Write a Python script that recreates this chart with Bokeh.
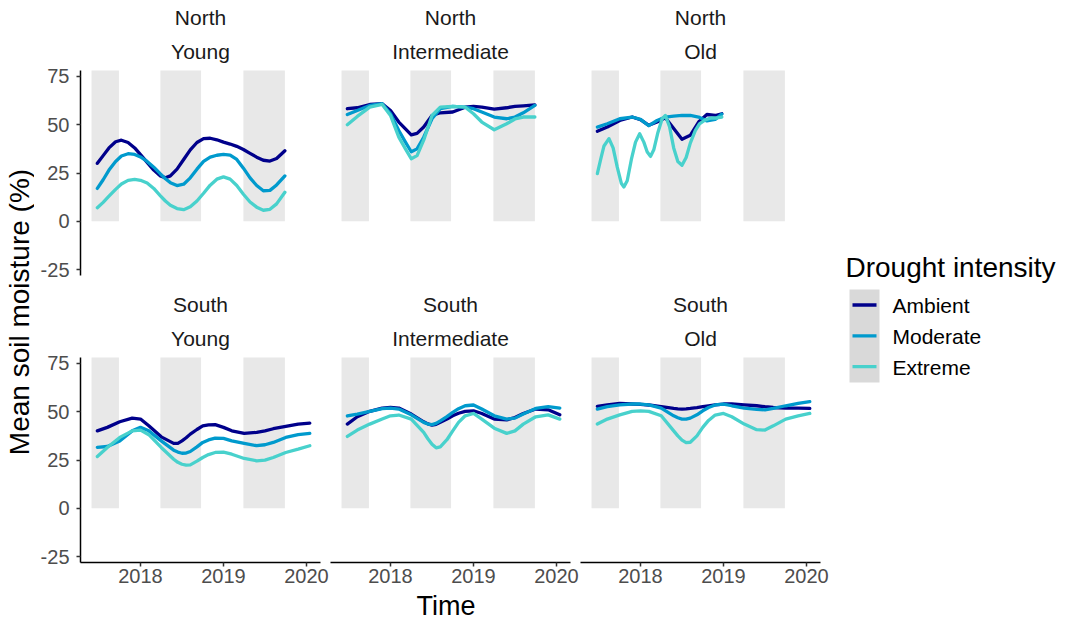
import numpy as np
from bokeh.plotting import figure
from bokeh.models import Range1d, FixedTicker, LinearAxis
from bokeh.layouts import row, column
from bokeh.embed import file_html
from bokeh.resources import INLINE
from bokeh.core.properties import value

# ---------------- data ----------------
SERIES = ["Ambient", "Moderate", "Extreme"]
COLORS = ["#00008B", "#009ACD", "#48D1CC"]
REGIONS = ["North", "South"]
AGES = ["Young", "Intermediate", "Old"]
DROUGHT_START = [2017.41, 2018.24, 2019.24]
DROUGHT_END = [2017.74, 2018.73, 2019.74]
Y_TICKS = [-25, 0, 25, 50, 75]
Y_TICK_LABELS = ["-25", "0", "25", "50", "75"]
X_TICKS = [2018, 2019, 2020]
X_TICK_LABELS = ["2018", "2019", "2020"]

# North Young
t_ny = [2017.48, 2017.55, 2017.62, 2017.70, 2017.77, 2017.85, 2017.93, 2018.00, 2018.08, 2018.16,
        2018.24, 2018.30, 2018.36, 2018.44, 2018.52, 2018.60, 2018.68, 2018.76, 2018.84, 2018.92,
        2019.00, 2019.08, 2019.16, 2019.24, 2019.32, 2019.40, 2019.48, 2019.56, 2019.64, 2019.74]
ny_ambient = [30, 34, 38, 41.2, 42, 40.8, 38, 34.5, 30.5, 26.5, 23.5, 22.5, 23.5, 27, 32, 37, 40.8,
              42.8, 43, 42.2, 41, 40, 38.8, 37.2, 35.2, 33.2, 31.6, 31.2, 32.5, 36.5]
ny_moderate = [17, 21.5, 26.5, 31, 33.8, 35, 34.6, 33.3, 31, 28, 24.5, 22, 20, 18.5, 19.2, 22.5, 27,
               31, 33.2, 34.2, 34.6, 34.3, 32, 27.5, 22.5, 18.5, 15.8, 16, 18.8, 23.5]
ny_extreme = [7, 9.8, 13, 16.5, 19.3, 21.2, 21.7, 21.2, 19.8, 17, 13.2, 10.5, 8.3, 6.6, 6, 7.5, 10.5,
              14.5, 18.7, 21.8, 23, 21.8, 18.5, 14, 10, 7.3, 5.7, 6.2, 9, 15]

# North Intermediate
t_ni = [2017.48, 2017.6, 2017.75, 2017.9, 2018.0, 2018.1, 2018.18, 2018.25, 2018.32, 2018.4, 2018.5,
        2018.6, 2018.75, 2018.9, 2019.0, 2019.1, 2019.25, 2019.4, 2019.5, 2019.6, 2019.74]
ni_ambient = [58.3, 58.8, 60.5, 60.9, 57.4, 51.4, 47.9, 44.8, 45.5, 48.8, 54.8, 56.2, 56.6, 59.1, 59.5,
              59.1, 58.1, 58.8, 59.5, 59.8, 60.3]
ni_moderate = [55.3, 57.4, 60, 60.9, 55.7, 47, 41, 36, 37.5, 43.5, 53.1, 58.3, 59.5, 59.1, 58.3, 56.6,
               54, 53.1, 54, 56.2, 60]
ni_extreme = [50, 54.3, 59.1, 60.5, 54.8, 43.6, 37.5, 32.4, 34, 42, 54.8, 59.1, 59.5, 59.1, 55.7, 51.4,
              47.4, 50.5, 53, 54, 54]

# North Old
t_no = [2017.48, 2017.6, 2017.75, 2017.9, 2018.0, 2018.1, 2018.2, 2018.3, 2018.4, 2018.5, 2018.6,
        2018.7, 2018.8, 2018.9, 2018.98]
no_ambient = [46.6, 48.8, 52.2, 54, 52.6, 49.7, 51.4, 53.6, 48, 42.5, 44.5, 51.4, 55.3, 54.8, 55.7]
no_moderate = [48.8, 50.5, 53.1, 54, 52.8, 49.5, 52.2, 54, 54.5, 54.8, 54.8, 54, 52, 52.8, 55.5]
t_no_ext = [2017.48, 2017.52, 2017.56, 2017.62, 2017.67, 2017.72, 2017.77, 2017.80, 2017.84, 2017.89,
            2017.94, 2017.99, 2018.04, 2018.08, 2018.12, 2018.16, 2018.21, 2018.26, 2018.30, 2018.35,
            2018.40, 2018.45, 2018.50, 2018.55, 2018.60, 2018.66, 2018.71, 2018.78, 2018.85, 2018.92, 2018.98]
no_extreme = [24.7, 32, 39, 42.8, 38, 28, 19.5, 17.8, 21, 32, 41, 45.3, 41, 36, 33.6, 37, 46, 53, 54.8,
              49, 38, 31, 29, 33, 40.5, 47, 50.5, 52.5, 53.5, 53.5, 54]

# South panels share one time axis
t_s = [2017.48, 2017.6, 2017.75, 2017.9, 2018.0, 2018.1, 2018.25, 2018.4, 2018.45, 2018.5, 2018.55,
       2018.6, 2018.68, 2018.75, 2018.82, 2018.9, 2019.0, 2019.1, 2019.25, 2019.4, 2019.5, 2019.6,
       2019.75, 2019.9, 2020.04]
sy_ambient = [40.1, 41.9, 44.8, 46.7, 46.2, 42.7, 37, 33.6, 33.6, 34.9, 36.5, 38.4, 40.8, 42.7, 43.2,
              43.3, 41.9, 40.1, 38.8, 39.3, 40.1, 41.2, 42.4, 43.6, 44.1]
sy_moderate = [31.5, 32, 34.9, 40.1, 41.9, 40.1, 34.9, 30.1, 29.1, 28.5, 28.6, 29.4, 31.8, 34.1, 35.4,
               36.3, 36.2, 34.9, 33.6, 32.4, 32.9, 34.1, 36.7, 38.1, 38.8]
sy_extreme = [26.8, 31.5, 36.7, 40.1, 40.5, 38.1, 31.5, 25.4, 23.8, 22.8, 22.3, 22.5, 24.4, 26.3, 27.8,
              28.9, 29.1, 28, 25.8, 24.6, 24.9, 26.3, 28.9, 30.6, 32.4]
si_ambient = [43.6, 47.4, 50.2, 51.9, 52.2, 51.9, 48.8, 44.8, 43.7, 43.1, 43.5, 44.5, 46.2, 47.9, 49.2,
              50.2, 50.5, 49.1, 46.2, 45.8, 47, 49.1, 51.4, 51, 48.4]
si_moderate = [47.8, 48.8, 50.2, 51.6, 51.9, 51.4, 48.4, 44.5, 43.6, 43.3, 44, 45.3, 47.5, 49.7, 51.6,
               53.1, 53.5, 51.4, 47.9, 46.2, 46.7, 48.8, 51.7, 52.6, 51.9]
si_extreme = [37.2, 40.5, 43.6, 46.2, 47.9, 48.3, 46.2, 39.3, 36, 33.2, 31.3, 31.8, 35.5, 40.1, 44.5,
              47.9, 49.1, 46.2, 41.5, 38.8, 40.1, 43.6, 47.4, 48.4, 46.2]
so_ambient = [52.8, 53.6, 54.3, 54, 53.8, 53.5, 52.6, 51.7, 51.5, 51.4, 51.5, 51.7, 52.1, 52.6, 53.1,
              53.6, 54, 54, 53.6, 53.1, 52.6, 52.2, 51.9, 51.9, 51.7]
so_moderate = [51.4, 52.6, 53.6, 54, 54, 53.6, 51.9, 47.9, 46.9, 46.2, 46.2, 46.7, 48.4, 50.5, 52.2,
               53.5, 54, 53.1, 51.9, 51.2, 51, 51.7, 53.1, 54.3, 55.2]
so_extreme = [43.6, 46.2, 48.4, 50.2, 50.5, 50.2, 47.9, 40.1, 37.5, 35.3, 34, 34.2, 37.5, 41.9, 45.5,
              48.3, 49.1, 47.4, 43.6, 40.7, 40.5, 42.7, 46.2, 47.9, 49.1]

PANELS = {
    ("North", "Young"): [(t_ny, ny_ambient), (t_ny, ny_moderate), (t_ny, ny_extreme)],
    ("North", "Intermediate"): [(t_ni, ni_ambient), (t_ni, ni_moderate), (t_ni, ni_extreme)],
    ("North", "Old"): [(t_no, no_ambient), (t_no, no_moderate), (t_no_ext, no_extreme)],
    ("South", "Young"): [(t_s, sy_ambient), (t_s, sy_moderate), (t_s, sy_extreme)],
    ("South", "Intermediate"): [(t_s, si_ambient), (t_s, si_moderate), (t_s, si_extreme)],
    ("South", "Old"): [(t_s, so_ambient), (t_s, so_moderate), (t_s, so_extreme)],
}

# ---------------- layout / style ----------------
FONT = "Liberation Sans"
X0, X1 = 2017.277, 2020.169
Y0, Y1 = -28.1, 78.1
PANEL_PX = 205
K = PANEL_PX / (Y1 - Y0)

YLAB_W = 34
WIDTHS = [295, 250, 251]
LEFT_B = [46, 1, 1]
RIGHT_B = [9, 9, 10]
HEIGHTS = [285, 307]
BOTTOM_B = [10, 30]
XLAB_H = 28
LEG_W = 1066 - YLAB_W - sum(WIDTHS)
TOTAL_H = sum(HEIGHTS) + XLAB_H


def style_axis(ax, standoff):
    ax.axis_line_color = "black"
    ax.axis_line_width = 1.5
    ax.major_tick_line_color = "#333333"
    ax.major_tick_line_width = 1.5
    ax.major_tick_in = 0
    ax.major_tick_out = 4
    ax.minor_tick_line_color = None
    ax.major_label_text_font = FONT
    ax.major_label_text_font_size = "20px"
    ax.major_label_text_color = "#4d4d4d"
    ax.major_label_standoff = standoff


def make_panel(r, c):
    region, age = REGIONS[r], AGES[c]
    h = HEIGHTS[r]
    frame_h = h - BOTTOM_B[r]
    p = figure(width=WIDTHS[c], height=h,
               x_range=Range1d(X0, X1), y_range=Range1d(Y0, Y0 + frame_h / K),
               output_backend="svg", toolbar_location=None,
               x_axis_type=None, y_axis_type=None,
               min_border_left=LEFT_B[c], min_border_right=RIGHT_B[c],
               min_border_top=0, min_border_bottom=BOTTOM_B[r])
    p.outline_line_color = None
    p.background_fill_color = "white"
    p.border_fill_color = "white"

    p.quad(left=DROUGHT_START, right=DROUGHT_END, bottom=0, top=Y1,
           fill_color="#e8e8e8", line_color=None)

    for (t, v), color in zip(PANELS[(region, age)], COLORS):
        p.line(t, v, line_color=color, line_width=3.3, line_join="round", line_cap="round")

    xc = (X0 + X1) / 2
    for txt, off in ((region, 52.8), (age, 19.5)):
        p.text(x=[xc], y=[Y1 + off / K], text=[txt], text_font=value(FONT),
               text_font_size="21px", text_color="#1a1a1a", text_align="center",
               text_baseline="middle")

    if c == 0:
        ax = LinearAxis(ticker=FixedTicker(ticks=Y_TICKS), bounds=(Y0, Y1),
                        major_label_overrides=dict(zip(Y_TICKS, Y_TICK_LABELS)))
        style_axis(ax, 7)
        p.add_layout(ax, "left")
    if r == 1:
        ax = LinearAxis(ticker=FixedTicker(ticks=X_TICKS),
                        major_label_overrides=dict(zip(X_TICKS, X_TICK_LABELS)))
        style_axis(ax, 2)
        p.add_layout(ax, "below")
    return p


def blank(width, height, xr, yr):
    p = figure(width=width, height=height, x_range=Range1d(*xr), y_range=Range1d(*yr),
               output_backend="svg", toolbar_location=None,
               x_axis_type=None, y_axis_type=None, min_border=0)
    p.outline_line_color = None
    p.background_fill_color = "white"
    p.border_fill_color = "white"
    return p


panels = [[make_panel(r, c) for c in range(3)] for r in range(2)]

# y-axis title (window pixel coordinates)
ylab = blank(YLAB_W, TOTAL_H, (0, YLAB_W), (TOTAL_H, 0))
ylab.text(x=[18.5], y=[311.5], text=["Mean soil moisture (%)"], angle=np.pi / 2,
          text_font=value(FONT), text_font_size="28px", text_color="black",
          text_align="center", text_baseline="middle")

# x-axis title
x_left = YLAB_W
x_right = YLAB_W + sum(WIDTHS)
y_top = sum(HEIGHTS)
xlab = blank(sum(WIDTHS), XLAB_H, (x_left, x_right), (TOTAL_H, y_top))
xlab.text(x=[445.5], y=[605.5], text=["Time"], text_font=value(FONT), text_font_size="27px",
          text_color="black", text_align="center", text_baseline="middle")

# legend
leg = blank(LEG_W, TOTAL_H, (x_right, 1066), (TOTAL_H, 0))
leg.text(x=[845], y=[266.7], text=["Drought intensity"], text_font=value(FONT),
         text_font_size="28px", text_color="black", text_align="left",
         text_baseline="middle")
leg.quad(left=[849], right=[879], top=[289], bottom=[382], fill_color="#d9d9d9", line_color=None)
key_y = [304.5 + 30.8 * i for i in range(len(SERIES))]
leg.segment(x0=[852] * 3, x1=[876] * 3, y0=key_y, y1=key_y, line_color=COLORS, line_width=3.3)
leg.text(x=[892] * 3, y=[y + 0.7 for y in key_y], text=SERIES, text_font=value(FONT),
         text_font_size="21px", text_color="black", text_align="left",
         text_baseline="middle")

layout = row(ylab,
             column(row(*panels[0]), row(*panels[1]), xlab),
             leg)

open("out.html", "w").write(file_html(layout, INLINE))
